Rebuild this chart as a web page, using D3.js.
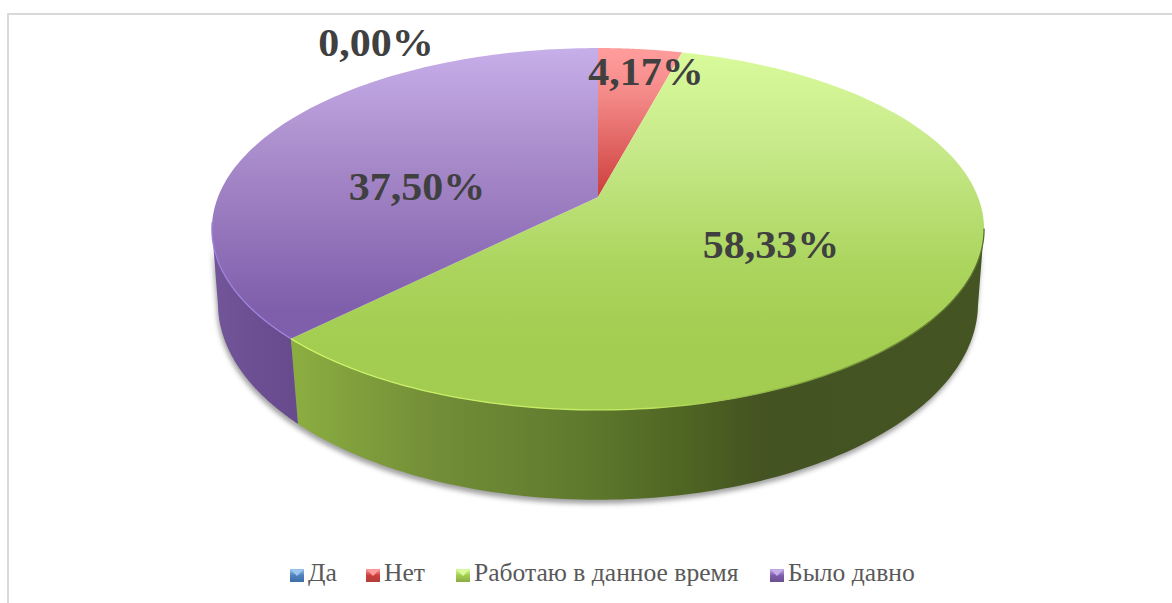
<!DOCTYPE html>
<html><head><meta charset="utf-8">
<script src="https://cdn.jsdelivr.net/npm/d3@7/dist/d3.min.js"></script>
<style>html,body{margin:0;padding:0;background:#fff;overflow:hidden}svg{display:block}</style>
</head><body><svg id="c" width="1172" height="603"></svg>
<script>
const categories = ["Да","Нет","Работаю в данное время","Было давно"];
const values = [0,4.17,58.33,37.5];
const topLight = ["#9cc6ee","#ff9c9c","#d9fb9c","#c6aee9"];
const topMid   = ["#4f81bd","#cc3e3b","#a3cd50","#7f5eab"];
const legendDark = ["#3f6ea8","#b03f3c","#8cab45","#6a4f90"];
const labelCenters = [[376,56],[646,85],[771,258],[417,200]];
const legendSwatchX = [290,366,456,770];

const svg = d3.select("#c"), W=1172, H=603;
const defs = svg.append("defs");
const CX=598;
const topPlane={A:380,S:175.3,Y0:197,k:0.1768};
const botPlane={A:374.8,S:191,Y0:271,k:0.165};
const project=(p,t)=>{const x=Math.sin(t),y=Math.cos(t),d=1+p.k*y;return [CX+p.A*x/d,p.Y0-p.S*y/d];};

// frame
svg.append("path").attr("d",`M${W} 14H8V${H}`).attr("fill","none").attr("stroke","#d9d9d9").attr("stroke-width",2);

const rad=d3.scaleLinear().domain([0,360]).range([0,2*Math.PI]);
const arcs=d3.pie().sort(null).value(d=>d).startAngle(0).endAngle(2*Math.PI)(values);
const samples=(a0,a1)=>d3.range(0,121).map(i=>a0+(a1-a0)*i/120);
const line=d3.line();
const VIS0=rad(100),VIS1=rad(260);

function wallPath(a0,a1){
  const ts=samples(a0,a1);
  return line(ts.map(t=>project(topPlane,t)).concat(ts.slice().reverse().map(t=>project(botPlane,t))))+"Z";
}
function grad(id,x1,y1,x2,y2,stops){
  const g=defs.append("linearGradient").attr("id",id).attr("gradientUnits","userSpaceOnUse")
    .attr("x1",x1).attr("y1",y1).attr("x2",x2).attr("y2",y2);
  stops.forEach(s=>g.append("stop").attr("offset",s[0]).attr("stop-color",s[1]).attr("stop-opacity",s[2]===undefined?1:s[2]));
}
const blur=defs.append("filter").attr("id","sh").attr("x","-10%").attr("y","-10%").attr("width","120%").attr("height","120%");
blur.append("feGaussianBlur").attr("stdDeviation",2.6);

// walls
grad("wall2",290,0,984,0,[[0,"#8cae40"],[0.2,"#748f38"],[0.42,"#5f7a2d"],[0.58,"#4d6322"],[0.68,"#445322"],[1,"#455423"]]);
grad("wall3",212,0,300,0,[[0,"#735699"],[0.5,"#6c4f93"],[1,"#664a8c"]]);
const wallFill=[null,null,"url(#wall2)","url(#wall3)"];
const shadow=svg.append("g").attr("filter","url(#sh)").attr("transform","translate(-1,4)").attr("opacity",0.55);
const walls=svg.append("g");
arcs.forEach((a,i)=>{
  const a0=Math.max(a.startAngle,VIS0),a1=Math.min(a.endAngle,VIS1);
  if(a1<=a0) return;
  shadow.append("path").attr("d",wallPath(a0,a1)).attr("fill","#555");
  walls.append("path").attr("d",wallPath(a0,a1)).attr("fill",wallFill[i]);
});

// top faces
arcs.forEach((a,i)=>{
  if(a.endAngle-a.startAngle<=0) return;
  const id="top"+i;
  if(i===1) grad(id,0,50,0,197,[[0,topLight[i]],[0.3,"#f48a88"],[1,topMid[i]]]);
  else if(i===2) grad(id,0,50,0,345,[[0,topLight[i]],[0.35,"#c6e888"],[0.75,"#aad45c"],[1,topMid[i]]]);
  else grad(id,0,50,0,310,[[0,topLight[i]],[0.4,"#a98ccb"],[1,topMid[i]]]);
  const pts=[[CX,topPlane.Y0]].concat(samples(a.startAngle,a.endAngle).map(t=>project(topPlane,t)));
  svg.append("path").attr("d",line(pts)+"Z").attr("fill",`url(#${id})`);
});

// rim highlight
grad("rim2",290,0,984,0,[[0,"#cdf36a"],[0.5,"#c3ea62"],[0.65,"#9ac04c"],[0.85,"#6d8a35"],[1,"#55702a"]]);
[[2,"url(#rim2)"],[3,"#a083de"]].forEach(([i,c])=>{
  const a=arcs[i],a0=Math.max(a.startAngle,rad(100)),a1=Math.min(a.endAngle,rad(262));
  svg.append("path").attr("d",line(samples(a0,a1).map(t=>project(topPlane,t))))
    .attr("fill","none").attr("stroke",c).attr("stroke-width",1.3);
});

// value labels
const fmt=v=>v.toFixed(2).replace(".",",")+"%";
svg.append("g").selectAll("text").data(values).join("text")
  .attr("transform",(d,i)=>`translate(${labelCenters[i][0]},${labelCenters[i][1]}) scale(1.05,1)`)
  .attr("text-anchor","middle").attr("fill","#404040")
  .attr("font-family","'Liberation Serif',serif").attr("font-weight","bold").attr("font-size",40)
  .text(fmt);

// legend
const lg=svg.append("g");
categories.forEach((c,i)=>{
  const x=legendSwatchX[i],gid="lg"+i;
  grad(gid,0,569,0,582,[[0,topLight[i]],[0.5,topMid[i]],[1,legendDark[i]]]);
  lg.append("rect").attr("x",x).attr("y",569).attr("width",14).attr("height",13).attr("fill",`url(#${gid})`);
  lg.append("path").attr("d",`M${x+1} 570H${x+13}L${x+7} 576Z`).attr("fill",topLight[i]);
  lg.append("text").attr("transform",`translate(${x+18},581) scale(1.044,1)`).attr("fill","#595959")
    .attr("font-family","'Liberation Serif',serif").attr("font-size",24.5).text(c);
});
</script></body></html>
